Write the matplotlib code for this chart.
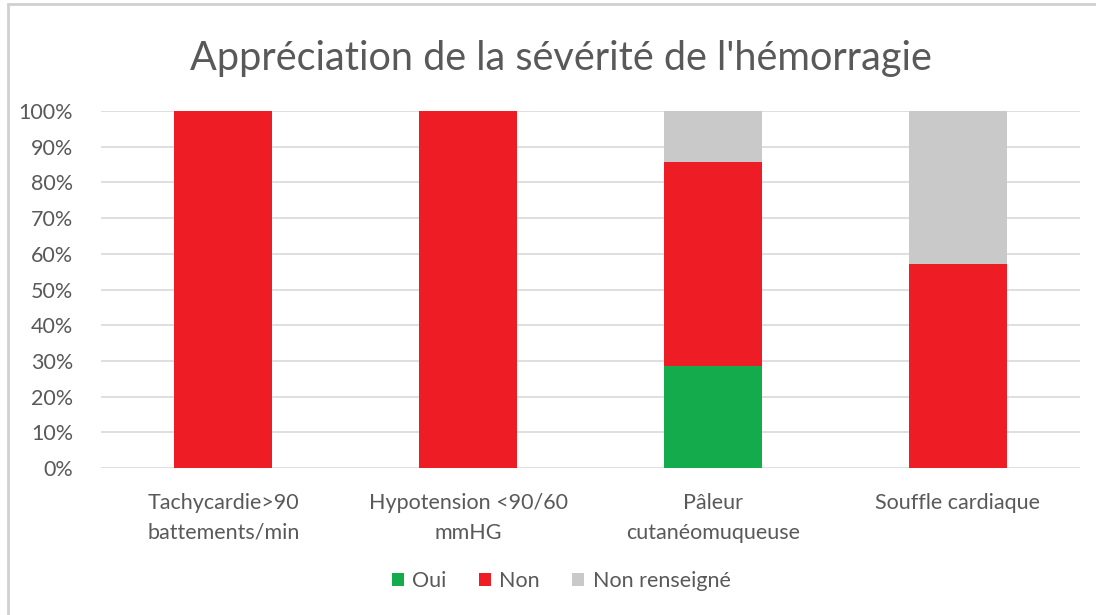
import numpy as np
import matplotlib
matplotlib.use("Agg")
import matplotlib.pyplot as plt
from matplotlib.patches import Rectangle

plt.rcParams['font.family'] = ['Lato', 'DejaVu Sans']

# Data (7 patients -> fractions)
categories = ["Tachycardie>90\nbattements/min", "Hypotension <90/60\nmmHG",
              "Pâleur\ncutanéomuqueuse", "Souffle cardiaque"]
oui = [0.0, 0.0, 2 / 7, 0.0]
non = [1.0, 1.0, 4 / 7, 4 / 7]
non_renseigne = [0.0, 0.0, 1 / 7, 3 / 7]

series = [("Oui", oui, "#14AB4C"),
          ("Non", non, "#EE1C25"),
          ("Non renseigné", non_renseigne, "#C9C9C9")]

fig = plt.figure(figsize=(10.96, 6.15), dpi=100)
ax = fig.add_axes([0.0922, 0.239, 0.8932, 0.5805])

x = np.arange(len(categories))
bottom = np.zeros(len(categories))
for label, vals, color in series:
    ax.bar(x, vals, width=0.4, bottom=bottom, color=color, label=label, zorder=3)
    bottom += np.array(vals)

ax.set_xlim(-0.5, len(categories) - 0.5)
ax.set_ylim(0, 1)
ax.set_yticks(np.arange(0, 1.01, 0.1))
ax.set_yticklabels([f"{int(round(v * 100))}%" for v in np.arange(0, 1.01, 0.1)])
ax.set_xticks(x)
ax.set_xticklabels(categories, linespacing=1.6)
ax.tick_params(axis='both', length=0, labelsize=15.5, colors="#595959")
ax.tick_params(axis='y', pad=20)
ax.tick_params(axis='x', pad=18)
ax.yaxis.grid(True, color="#D9D9D9", linewidth=1.2, zorder=0)
for s in ax.spines.values():
    s.set_visible(False)

fig.text(0.512, 0.905, "Appréciation de la sévérité de l'hémorragie",
         ha='center', va='center', fontsize=28.5, color="#595959")

fig.legend(loc='center', bbox_to_anchor=(0.512, 0.055), ncol=3, frameon=False,
           fontsize=15.5, handlelength=0.55, handleheight=0.55, handletextpad=0.4,
           columnspacing=1.5, labelcolor="#595959")

# outer chart frame
fig.patches.append(Rectangle((0.007, -0.01), 1.0, 1.003, transform=fig.transFigure,
                             fill=False, edgecolor="#D0D0D0", linewidth=2))

fig.savefig("out.png", dpi=100)
